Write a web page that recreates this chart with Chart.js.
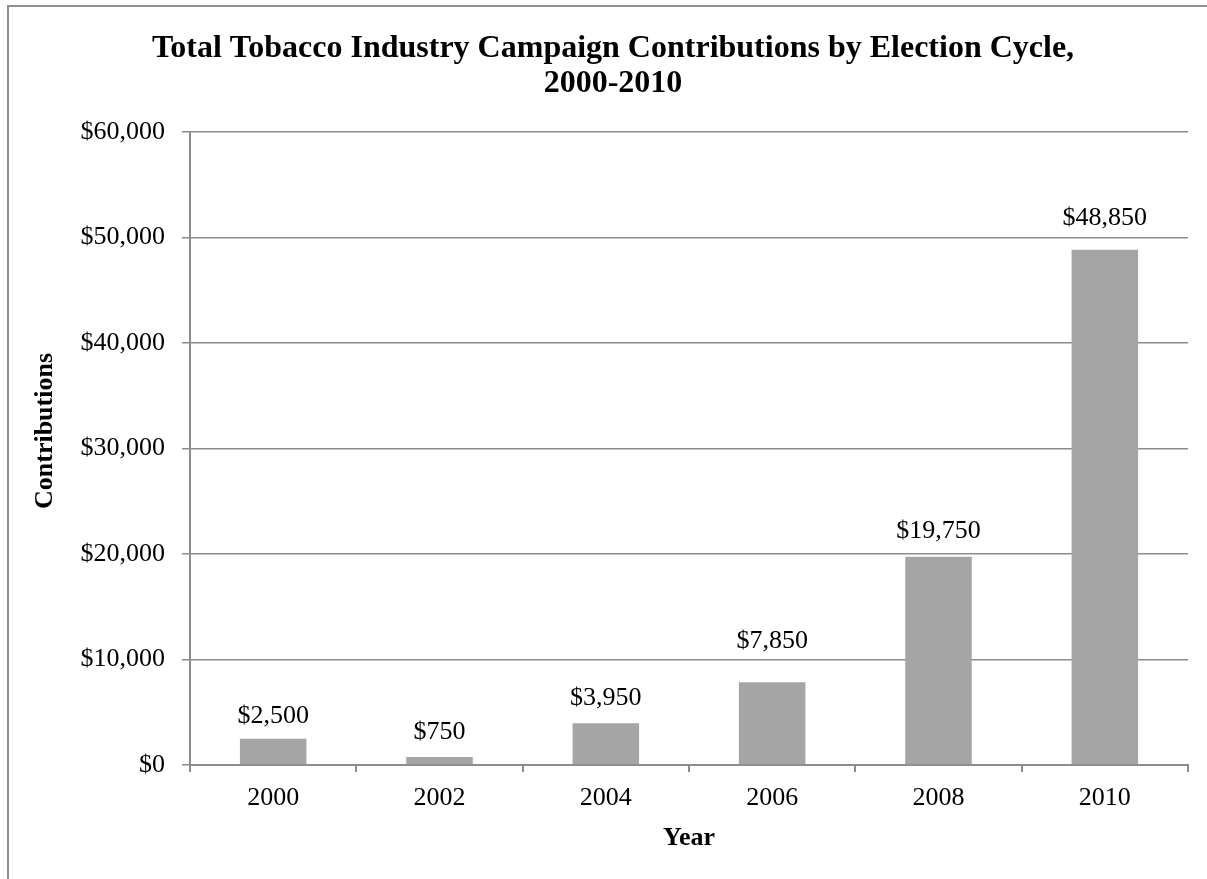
<!DOCTYPE html>
<html>
<head>
<meta charset="utf-8">
<title>Total Tobacco Industry Campaign Contributions by Election Cycle, 2000-2010</title>
<script src="https://cdn.jsdelivr.net/npm/chart.js@4/dist/chart.umd.min.js"></script>
<style>
  html, body { margin: 0; padding: 0; background: #ffffff; }
  canvas { display: block; }
</style>
</head>
<body>
<canvas id="chart" width="1207" height="879"></canvas>
<script>
// Election cycles and total contributions (USD)
const years = ['2000', '2002', '2004', '2006', '2008', '2010'];
const contributions = [2500, 750, 3950, 7850, 19750, 48850];

const titleLines = ['Total Tobacco Industry Campaign Contributions by Election Cycle,', '2000-2010'];
const xAxisTitle = 'Year';
const yAxisTitle = 'Contributions';

const SERIF = '"Liberation Serif", "Times New Roman", Times, serif';
const AXIS_GRAY = '#8c8c8c';

const money = v => '$' + Number(v).toLocaleString('en-US');

// Frame, headings and value labels drawn on the canvas
const decorations = {
  id: 'decorations',
  beforeDraw(chart) {
    const ctx = chart.ctx;
    ctx.save();
    ctx.fillStyle = '#ffffff';
    ctx.fillRect(0, 0, chart.width, chart.height);
    ctx.strokeStyle = '#8e8e8e';
    ctx.lineWidth = 2;
    ctx.strokeRect(8, 6, chart.width + 20, chart.height + 20);
    ctx.restore();
  },
  afterDraw(chart, args, opts) {
    const ctx = chart.ctx;
    ctx.save();
    // chart heading
    ctx.fillStyle = '#000000';
    ctx.textAlign = 'center';
    ctx.textBaseline = 'alphabetic';
    ctx.font = 'bold 32px ' + SERIF;
    titleLines.forEach((line, i) => ctx.fillText(line, 613, 57 + i * 35));

    // vertical axis heading
    ctx.save();
    ctx.translate(52, 431);
    ctx.rotate(-Math.PI / 2);
    ctx.font = 'bold 26px ' + SERIF;
    ctx.fillText(yAxisTitle, 0, 0);
    ctx.restore();

    // value labels above bars
    ctx.font = '26px ' + SERIF;
    const meta = chart.getDatasetMeta(0);
    meta.data.forEach((bar, i) => {
      const lift = opts.lift[i];
      ctx.fillText(money(contributions[i]), bar.x, bar.y - lift);
    });
    ctx.restore();
  }
};

new Chart(document.getElementById('chart'), {
  type: 'bar',
  data: {
    labels: years,
    datasets: [{
      data: contributions,
      backgroundColor: '#a5a5a5',
      borderWidth: 0,
      barPercentage: 0.4,
      categoryPercentage: 1.0
    }]
  },
  options: {
    responsive: false,
    animation: false,
    devicePixelRatio: 1,
    layout: { padding: { top: 132, left: 0, right: 19, bottom: 0 } },
    plugins: {
      legend: { display: false },
      tooltip: { enabled: false },
      title: { display: false },
      decorations: { lift: [16, 18, 18, 34, 19, 25] }
    },
    scales: {
      x: {
        offset: true,
        grid: {
          offset: true,
          drawOnChartArea: false,
          drawTicks: true,
          tickLength: 7,
          color: AXIS_GRAY,
          lineWidth: 2
        },
        border: { display: true, color: AXIS_GRAY, width: 2 },
        ticks: {
          color: '#000000',
          padding: 11,
          font: { family: SERIF, size: 26 },
          maxRotation: 0
        },
        title: {
          display: true,
          text: xAxisTitle,
          color: '#000000',
          font: { family: SERIF, size: 26, weight: 'bold' },
          padding: { top: 0, bottom: 25 }
        },
        afterFit(scale) { scale.height = 114; }
      },
      y: {
        min: 0,
        max: 60000,
        grid: {
          drawOnChartArea: true,
          drawTicks: true,
          tickLength: 8,
          color: AXIS_GRAY,
          lineWidth: 1.5
        },
        border: { display: true, color: AXIS_GRAY, width: 2 },
        ticks: {
          stepSize: 10000,
          color: '#000000',
          padding: 17,
          font: { family: SERIF, size: 26 },
          callback: v => money(v)
        },
        afterFit(scale) { scale.width = 190; }
      }
    }
  },
  plugins: [decorations]
});
</script>
</body>
</html>
